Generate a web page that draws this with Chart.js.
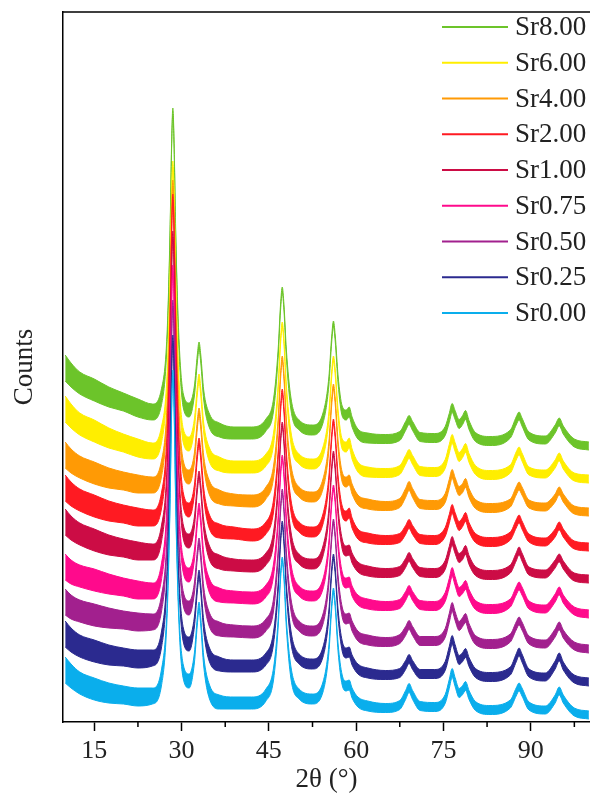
<!DOCTYPE html>
<html lang="en">
  <head>
    <meta charset="UTF-8" />
    <title>XRD patterns</title>
    <style>
      body {
        margin: 0;
        background-color: #fff;
      }
    </style>
  </head>
  <body>
    <canvas id="xrdChart" width="590" height="796"></canvas>

    <script src="https://cdn.jsdelivr.net/npm/chart.js"></script>
    <script>
      // 2theta positions (deg) the patterns were read at
      const twoTheta = [10, 11, 12.5, 15, 17.5, 20, 22.5, 25, 26.5, 27.5,
        28.0, 28.3, 28.5, 28.7, 29.0, 29.5, 30.3, 31.3, 32.2, 32.7,
        33.0, 33.3, 33.8, 34.8, 36.5, 39, 42, 44.5, 45.8, 46.6,
        47.0, 47.3, 47.6, 48.0, 48.8, 50.2, 52.5, 54.3, 55.3, 55.8,
        56.1, 56.4, 56.9, 57.6, 58.3, 58.8, 59.3, 60.3, 62, 65,
        67.5, 68.5, 69.1, 69.7, 71, 73.5, 75.3, 76.0, 76.5, 77.0,
        77.7, 78.3, 78.8, 79.4, 80.5, 83, 86.5, 87.5, 88.0, 88.5,
        89.7, 92.5, 94.2, 94.9, 95.6, 97.5, 100];

      // counts (stacked, arbitrary units), one list per sample
      const sr000 = [52, 46, 39, 33, 29, 27, 25, 26, 43, 109,
        215, 316, 349, 317, 216, 110, 50, 41, 64, 101,
        116, 100, 61, 30, 20, 19, 19, 27, 48, 99,
        145, 162, 145, 99, 49, 28, 23, 35, 72, 116,
        131, 117, 74, 42, 36, 37, 29, 20, 16, 14,
        17, 27, 34, 27, 16, 15, 23, 38, 49, 40,
        29, 32, 36, 27, 16, 12, 18, 30, 35, 30,
        16, 12, 23, 31, 23, 10, 7];
      const sr025 = [88, 82, 76, 71, 67, 65, 63, 64, 81, 146,
        251, 352, 384, 352, 252, 147, 87, 78, 100, 134,
        148, 133, 96, 67, 58, 56, 56, 63, 84, 135,
        180, 198, 180, 135, 85, 63, 58, 70, 107, 151,
        165, 151, 108, 76, 69, 70, 62, 53, 49, 47,
        49, 57, 63, 57, 48, 48, 56, 71, 82, 73,
        62, 65, 69, 60, 49, 45, 51, 64, 70, 64,
        49, 45, 57, 65, 56, 43, 40];
      const sr050 = [120, 115, 111, 107, 104, 102, 100, 100, 117, 181,
        286, 387, 419, 387, 287, 183, 123, 114, 134, 167,
        180, 166, 130, 102, 93, 91, 90, 97, 117, 168,
        212, 230, 212, 167, 117, 96, 91, 103, 141, 185,
        200, 186, 142, 110, 103, 104, 96, 86, 82, 80,
        83, 91, 97, 91, 81, 81, 89, 104, 115, 106,
        96, 100, 104, 94, 82, 78, 84, 96, 101, 96,
        82, 78, 89, 96, 88, 76, 73];
      const sr075 = [155, 150, 146, 142, 138, 135, 132, 131, 149, 214,
        320, 421, 454, 422, 321, 215, 156, 147, 167, 201,
        215, 201, 164, 136, 127, 125, 124, 131, 152, 202,
        247, 264, 247, 202, 152, 131, 126, 138, 176, 220,
        234, 221, 177, 145, 139, 140, 131, 122, 118, 116,
        118, 126, 132, 126, 117, 116, 125, 139, 150, 141,
        130, 133, 137, 128, 117, 113, 119, 131, 136, 131,
        117, 113, 124, 131, 123, 111, 108];
      const sr100 = [200, 194, 188, 182, 177, 174, 171, 170, 187, 250,
        355, 456, 488, 456, 356, 252, 190, 181, 200, 234,
        247, 233, 197, 169, 160, 157, 156, 163, 184, 235,
        280, 297, 280, 234, 184, 163, 158, 171, 208, 253,
        268, 254, 210, 178, 171, 172, 164, 155, 151, 149,
        151, 159, 165, 159, 150, 149, 157, 171, 181, 173,
        164, 167, 172, 162, 151, 147, 153, 165, 171, 165,
        151, 148, 158, 164, 157, 145, 143];
      const sr200 = [234, 228, 222, 216, 211, 208, 205, 204, 220, 284,
        391, 492, 525, 493, 392, 286, 222, 212, 232, 267,
        280, 266, 229, 200, 191, 189, 187, 194, 216, 267,
        312, 330, 312, 267, 216, 195, 190, 203, 241, 285,
        300, 286, 242, 211, 206, 209, 199, 188, 184, 182,
        184, 192, 198, 192, 183, 182, 190, 203, 213, 205,
        196, 200, 205, 195, 184, 180, 186, 198, 203, 197,
        184, 180, 189, 196, 189, 177, 175];
      const sr400 = [267, 261, 255, 249, 244, 241, 238, 237, 252, 312,
        412, 508, 539, 508, 413, 314, 254, 245, 264, 297,
        310, 297, 261, 234, 225, 222, 221, 229, 250, 300,
        345, 363, 345, 300, 251, 230, 225, 238, 275, 320,
        335, 321, 277, 245, 240, 242, 233, 222, 218, 216,
        219, 229, 236, 229, 218, 217, 224, 238, 248, 240,
        231, 234, 239, 229, 218, 214, 219, 231, 236, 231,
        218, 215, 224, 231, 224, 212, 210];
      const sr600 = [313, 306, 298, 291, 284, 279, 274, 271, 286, 342,
        438, 529, 558, 529, 438, 344, 286, 278, 298, 331,
        344, 330, 294, 267, 258, 255, 255, 262, 283, 334,
        380, 397, 380, 334, 284, 263, 258, 270, 305, 348,
        363, 350, 308, 278, 275, 279, 268, 255, 250, 249,
        252, 262, 268, 262, 251, 250, 258, 273, 283, 275,
        265, 269, 274, 264, 252, 247, 253, 266, 271, 265,
        251, 248, 258, 265, 257, 245, 243];
      const sr800 = [354, 347, 339, 332, 325, 320, 314, 310, 324, 383,
        484, 580, 611, 580, 485, 385, 321, 312, 331, 363,
        376, 363, 327, 301, 292, 289, 289, 297, 317, 369,
        414, 432, 414, 369, 318, 297, 292, 304, 340, 383,
        398, 384, 342, 311, 307, 310, 300, 288, 284, 283,
        286, 296, 302, 296, 285, 284, 291, 304, 314, 307,
        298, 302, 307, 297, 285, 281, 288, 301, 306, 300,
        286, 282, 293, 300, 292, 279, 276];

      // half width of the noise band around each trace, same grid
      const noise = [13, 12, 11, 11, 10, 9, 9, 8, 8, 5,
        3, 3, 3, 3, 3, 5, 7, 7, 5, 4,
        4, 4, 5, 7, 7, 6, 6, 6, 6, 4,
        3, 3, 3, 4, 6, 5, 5, 5, 4, 3,
        3, 3, 4, 5, 5, 5, 5, 5, 5, 4.5,
        4.5, 4.5, 4.5, 4.5, 4.5, 4.5, 4.5, 4.5, 4.5, 4.5,
        4.5, 4.5, 4.5, 4.5, 4.5, 4.5, 4, 4, 4, 4,
        4, 4, 4, 4, 4, 4, 4];

      const seriesNames = ['Sr0.00', 'Sr0.25', 'Sr0.50', 'Sr0.75', 'Sr1.00',
        'Sr2.00', 'Sr4.00', 'Sr6.00', 'Sr8.00'];
      const seriesValues = [sr000, sr025, sr050, sr075, sr100, sr200, sr400, sr600, sr800];
      const seriesColors = ['#0AAEEC', '#2B2A8F', '#A2208E', '#FF0A8C', '#CC0C45',
        '#FF1A22', '#FF9A05', '#FFEE00', '#6CC42A'];

      const xTicks = [15, 30, 45, 60, 75, 90];
      const xMinorTicks = [22.5, 37.5, 52.5, 67.5, 82.5, 97.5];

      const serif = '"Liberation Serif", "Times New Roman", serif';
      Chart.defaults.font.family = serif;
      Chart.defaults.color = '#222';

      // each sample is a filled band: upper edge fills down to lower edge
      const datasets = [];
      seriesValues.forEach((vals, i) => {
        datasets.push({
          label: seriesNames[i],
          data: twoTheta.map((x, j) => ({ x: x, y: vals[j] + noise[j] })),
          borderColor: seriesColors[i],
          backgroundColor: seriesColors[i],
          borderWidth: 1,
          pointRadius: 0,
          cubicInterpolationMode: 'monotone',
          fill: '+1'
        });
        datasets.push({
          label: seriesNames[i] + ' (low)',
          data: twoTheta.map((x, j) => ({ x: x, y: vals[j] - noise[j] })),
          borderColor: seriesColors[i],
          borderWidth: 1,
          pointRadius: 0,
          cubicInterpolationMode: 'monotone',
          fill: false
        });
      });

      // top frame line, minor x ticks and the legend
      const decorPlugin = {
        id: 'decor',
        afterDraw(chart) {
          const { ctx, chartArea, scales } = chart;
          ctx.save();
          ctx.strokeStyle = '#000';
          ctx.lineWidth = 1.5;
          ctx.beginPath();
          ctx.moveTo(chartArea.left, chartArea.top);
          ctx.lineTo(chartArea.right, chartArea.top);
          xMinorTicks.forEach(v => {
            const px = scales.x.getPixelForValue(v);
            ctx.moveTo(px, chartArea.bottom);
            ctx.lineTo(px, chartArea.bottom + 5);
          });
          ctx.stroke();

          ctx.font = '27px ' + serif;
          ctx.fillStyle = '#222';
          ctx.textBaseline = 'middle';
          ctx.lineWidth = 2;
          for (let k = 0; k < seriesNames.length; k++) {
            const i = seriesNames.length - 1 - k;
            const y = 27 + k * 35.75;
            ctx.strokeStyle = seriesColors[i];
            ctx.beginPath();
            ctx.moveTo(442, y);
            ctx.lineTo(508, y);
            ctx.stroke();
            ctx.fillText(seriesNames[i], 515, y + 1);
          }
          ctx.restore();
        }
      };

      new Chart(document.getElementById('xrdChart'), {
        type: 'line',
        data: { datasets: datasets },
        options: {
          responsive: false,
          animation: false,
          devicePixelRatio: 1,
          layout: { padding: { top: 12, right: 0, left: 0, bottom: 0 } },
          plugins: {
            legend: { display: false },
            tooltip: { enabled: false },
            filler: { drawTime: 'beforeDatasetDraw' }
          },
          scales: {
            x: {
              type: 'linear',
              min: 9.62,
              max: 100.19,
              afterBuildTicks: scale => {
                scale.ticks = xTicks.map(v => ({ value: v }));
              },
              afterFit: scale => {
                scale.height = 74;
              },
              ticks: {
                autoSkip: false,
                maxRotation: 0,
                padding: 5,
                font: { size: 26 },
                callback: v => String(v)
              },
              grid: {
                drawOnChartArea: false,
                tickLength: 9,
                tickWidth: 1.5,
                tickColor: '#000'
              },
              border: { color: '#000', width: 1.5 },
              title: {
                display: true,
                text: '2θ (°)',
                font: { size: 27 },
                padding: { top: 2, bottom: 0 }
              }
            },
            y: {
              min: 0,
              max: 710,
              afterFit: scale => {
                scale.width = 63;
              },
              ticks: { display: false },
              grid: { display: false },
              border: { color: '#000', width: 1.5 },
              title: {
                display: true,
                text: 'Counts',
                font: { size: 27 },
                padding: { top: 9, bottom: 0 }
              }
            }
          }
        },
        plugins: [decorPlugin]
      });
    </script>
  </body>
</html>
